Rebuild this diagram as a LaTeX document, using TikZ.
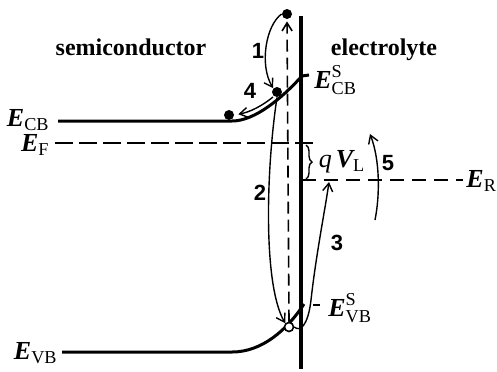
\documentclass[tikz,border=0pt]{standalone}
\usepackage{fontspec}
\setmainfont{Liberation Serif}
\newfontfamily\numfont{Liberation Sans}
\usetikzlibrary{arrows.meta,decorations.pathreplacing}
\newcommand\EE{\hbox{\bfseries\itshape E}}
\newcommand\VVL{\hbox{\bfseries\itshape V}}
\begin{document}
\begin{tikzpicture}[x=0.5pt,y=-0.5pt,
  band/.style={line width=1.5pt},
  thinln/.style={line width=0.7pt},
  tipd/.style={-{Straight Barb[length=4pt,width=5pt]}},
  fermi/.style={line width=0.9pt, dash pattern=on 9pt off 3pt},
  redox/.style={line width=0.8pt, dash pattern=on 7pt off 4pt},
  vdash/.style={line width=0.8pt, dash pattern=on 6pt off 3pt},
  elec/.style={circle, fill, inner sep=0pt, minimum size=5pt},
  hole/.style={circle, draw, line width=0.8pt, fill=white, inner sep=0pt, minimum size=4.5pt},
  lbl/.style={font=\fontsize{13}{14}\selectfont, inner sep=0pt},
  word/.style={font=\fontsize{12}{14}\selectfont\bfseries, inner sep=0pt},
  num/.style={font=\numfont\bfseries\fontsize{11}{13}\selectfont, inner sep=0pt}]
\useasboundingbox (0,0) rectangle (497,371);

% coordinates
\coordinate (cbL) at (58,121);
\coordinate (cbK) at (232,121);
\coordinate (cbS) at (302,76);
\coordinate (cbT) at (309,75);
\coordinate (vbL) at (62,352);
\coordinate (vbK) at (232,352);
\coordinate (vbS) at (304,304);
\coordinate (vbT1) at (313,305);
\coordinate (vbT2) at (320,305);
\coordinate (ifT) at (301,16);
\coordinate (ifB) at (301,369);
\coordinate (efL) at (55,143);
\coordinate (efR) at (315,143);
\coordinate (erL) at (302,180);
\coordinate (erR) at (463,180);
\coordinate (brT) at (306,145);
\coordinate (brB) at (306,179);
\coordinate (a3e) at (329,182);
\coordinate (a4s) at (273,97);
\coordinate (a5s) at (375,220);
\coordinate (a5e) at (370,134);

% bands and interface
\draw[band] (cbL) -- (cbK) .. controls (255,121) and (282,98) .. (cbS) -- (cbT);
\draw[band] (vbL) -- (vbK) .. controls (262,352) and (287,330) .. (vbS);
\draw[thinln] (vbT1) -- (vbT2);
\draw[line width=1.8pt] (ifT) -- (ifB);
\draw[fermi] (efL) -- (efR);
\draw[redox] (erL) -- (erR);
\draw[thinln, decorate, decoration={brace, amplitude=3pt}] (brT) -- (brB);

% carriers
\node[elec] (e1) at (287,14) {};
\node[elec] (e2) at (277,92) {};
\node[elec] (e3) at (229,115) {};
\node[hole] (h) at (289,327) {};

% transitions
\draw[vdash, tipd, shorten >=1pt] (h.north) -- (e1.south);
\draw[thinln, tipd] (e1.west) .. controls (266,25) and (259,65) .. (e2.north west);
\draw[thinln, tipd] (e2.south) .. controls (266,170) and (263,285) .. (h.north west);
\draw[thinln, tipd] (h.east) .. controls (300,332) and (308,326) .. (311,300) .. controls (316,255) and (325,210) .. (a3e);
\draw[thinln, tipd, shorten >=2pt] (a4s) .. controls (262,106) and (250,112) .. (e3.east);
\draw[thinln, tipd] (a5s) .. controls (380,195) and (380,160) .. (a5e);

% labels
\node[word] (tsc) at (131,47) {semiconductor};
\node[word] (tel) at (384,50) {electrolyte};
\node[lbl, anchor=east] (lcb) at (50,120) {$\EE_{\mathrm{CB}}$};
\node[lbl, anchor=east] (lf) at (50,145) {$\EE_{\mathrm{F}}$};
\node[lbl, anchor=east] (lvb) at (58,353) {$\EE_{\mathrm{VB}}$};
\node[lbl, anchor=west] (lcbs) at (314,80) {$\EE^{\mathrm{S}}_{\mathrm{CB}}$};
\node[lbl, anchor=west] (lvbs) at (328,308) {$\EE^{\mathrm{S}}_{\mathrm{VB}}$};
\node[lbl, anchor=west] (lr) at (466,181) {$\EE_{\mathrm{R}}$};
\node[lbl] (lq) at (342,162) {$\hbox{\itshape q}\,\VVL_{\mathrm{L}}$};
\node[num] (n1) at (258,51) {1};
\node[num] (n2) at (260,193) {2};
\node[num] (n3) at (337,243) {3};
\node[num] (n4) at (250,91) {4};
\node[num] (n5) at (388,163) {5};
\end{tikzpicture}
\end{document}
